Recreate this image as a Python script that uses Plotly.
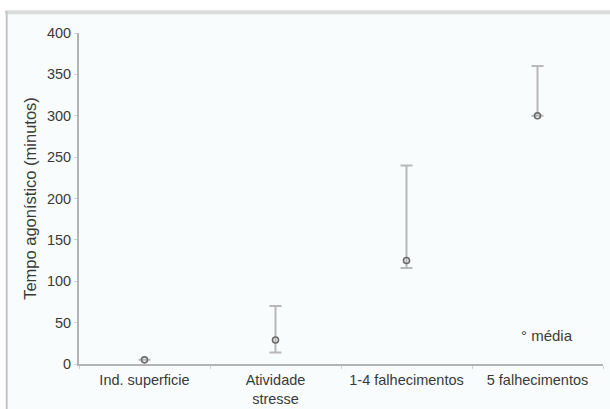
import plotly.graph_objects as go

categories = ["Ind. superficie", "Atividade<br>stresse", "1-4 falhecimentos", "5 falhecimentos"]
media = [5, 29, 125, 300]
maximo = [5, 70, 240, 360]
minimo = [5, 14, 116, 300]
y_ticks = [0, 50, 100, 150, 200, 250, 300, 350, 400]

err_plus = [hi - m for hi, m in zip(maximo, media)]
err_minus = [m - lo for lo, m in zip(minimo, media)]

BG = "#f8fcfc"
FONT = "Liberation Sans, Arial, sans-serif"

fig = go.Figure()
fig.add_trace(go.Scatter(
    x=categories,
    y=media,
    mode="markers",
    name="média",
    marker=dict(symbol="circle-open", size=6, color="#6a6a6a", line=dict(width=1.6)),
    error_y=dict(
        type="data",
        symmetric=False,
        array=err_plus,
        arrayminus=err_minus,
        color="#b8b8b8",
        thickness=2,
        width=6,
    ),
    showlegend=False,
))

fig.update_layout(
    width=610,
    height=409,
    margin=dict(l=79, r=7, t=33, b=45),
    paper_bgcolor="white",
    plot_bgcolor=BG,
    font=dict(family=FONT, size=14, color="#3a3a3a"),
    shapes=[
        # panel background and frame
        dict(type="rect", xref="paper", yref="paper", x0=-0.139, x1=1.02, y0=-0.14, y1=1.066,
             fillcolor=BG, line=dict(width=0), layer="below"),
        dict(type="line", xref="paper", yref="paper", x0=-0.141, x1=1.02, y0=1.063, y1=1.063,
             line=dict(color="#dcdcdc", width=4)),
        dict(type="line", xref="paper", yref="paper", x0=-0.138, x1=-0.138, y0=-0.14, y1=1.066,
             line=dict(color="#c4c4c4", width=2)),
    ],
    annotations=[
        dict(text="° média", xref="paper", yref="paper", x=0.839, y=0.087,
             xanchor="left", yanchor="middle", showarrow=False,
             font=dict(family=FONT, size=15, color="#3a3a3a")),
    ],
    xaxis=dict(
        range=[-0.5, 3.5],
        automargin=False,
        showline=True, linecolor="#b4b4b4", linewidth=2,
        ticks="outside", tickson="boundaries", ticklen=3, tickcolor="#d0d0d0",
        showgrid=False, zeroline=False,
        tickfont=dict(size=14.5),
        ticklabelstandoff=2,
    ),
    yaxis=dict(
        range=[0, 400], tickvals=y_ticks,
        automargin=False,
        showline=True, linecolor="#b4b4b4", linewidth=2,
        ticks="outside", ticklen=3, tickcolor="#d0d0d0",
        showgrid=False, zeroline=False,
        tickfont=dict(size=14.5),
        title=dict(text="Tempo agonístico (minutos)", font=dict(size=16.5), standoff=6),
    ),
)

fig.write_html("out.html")
